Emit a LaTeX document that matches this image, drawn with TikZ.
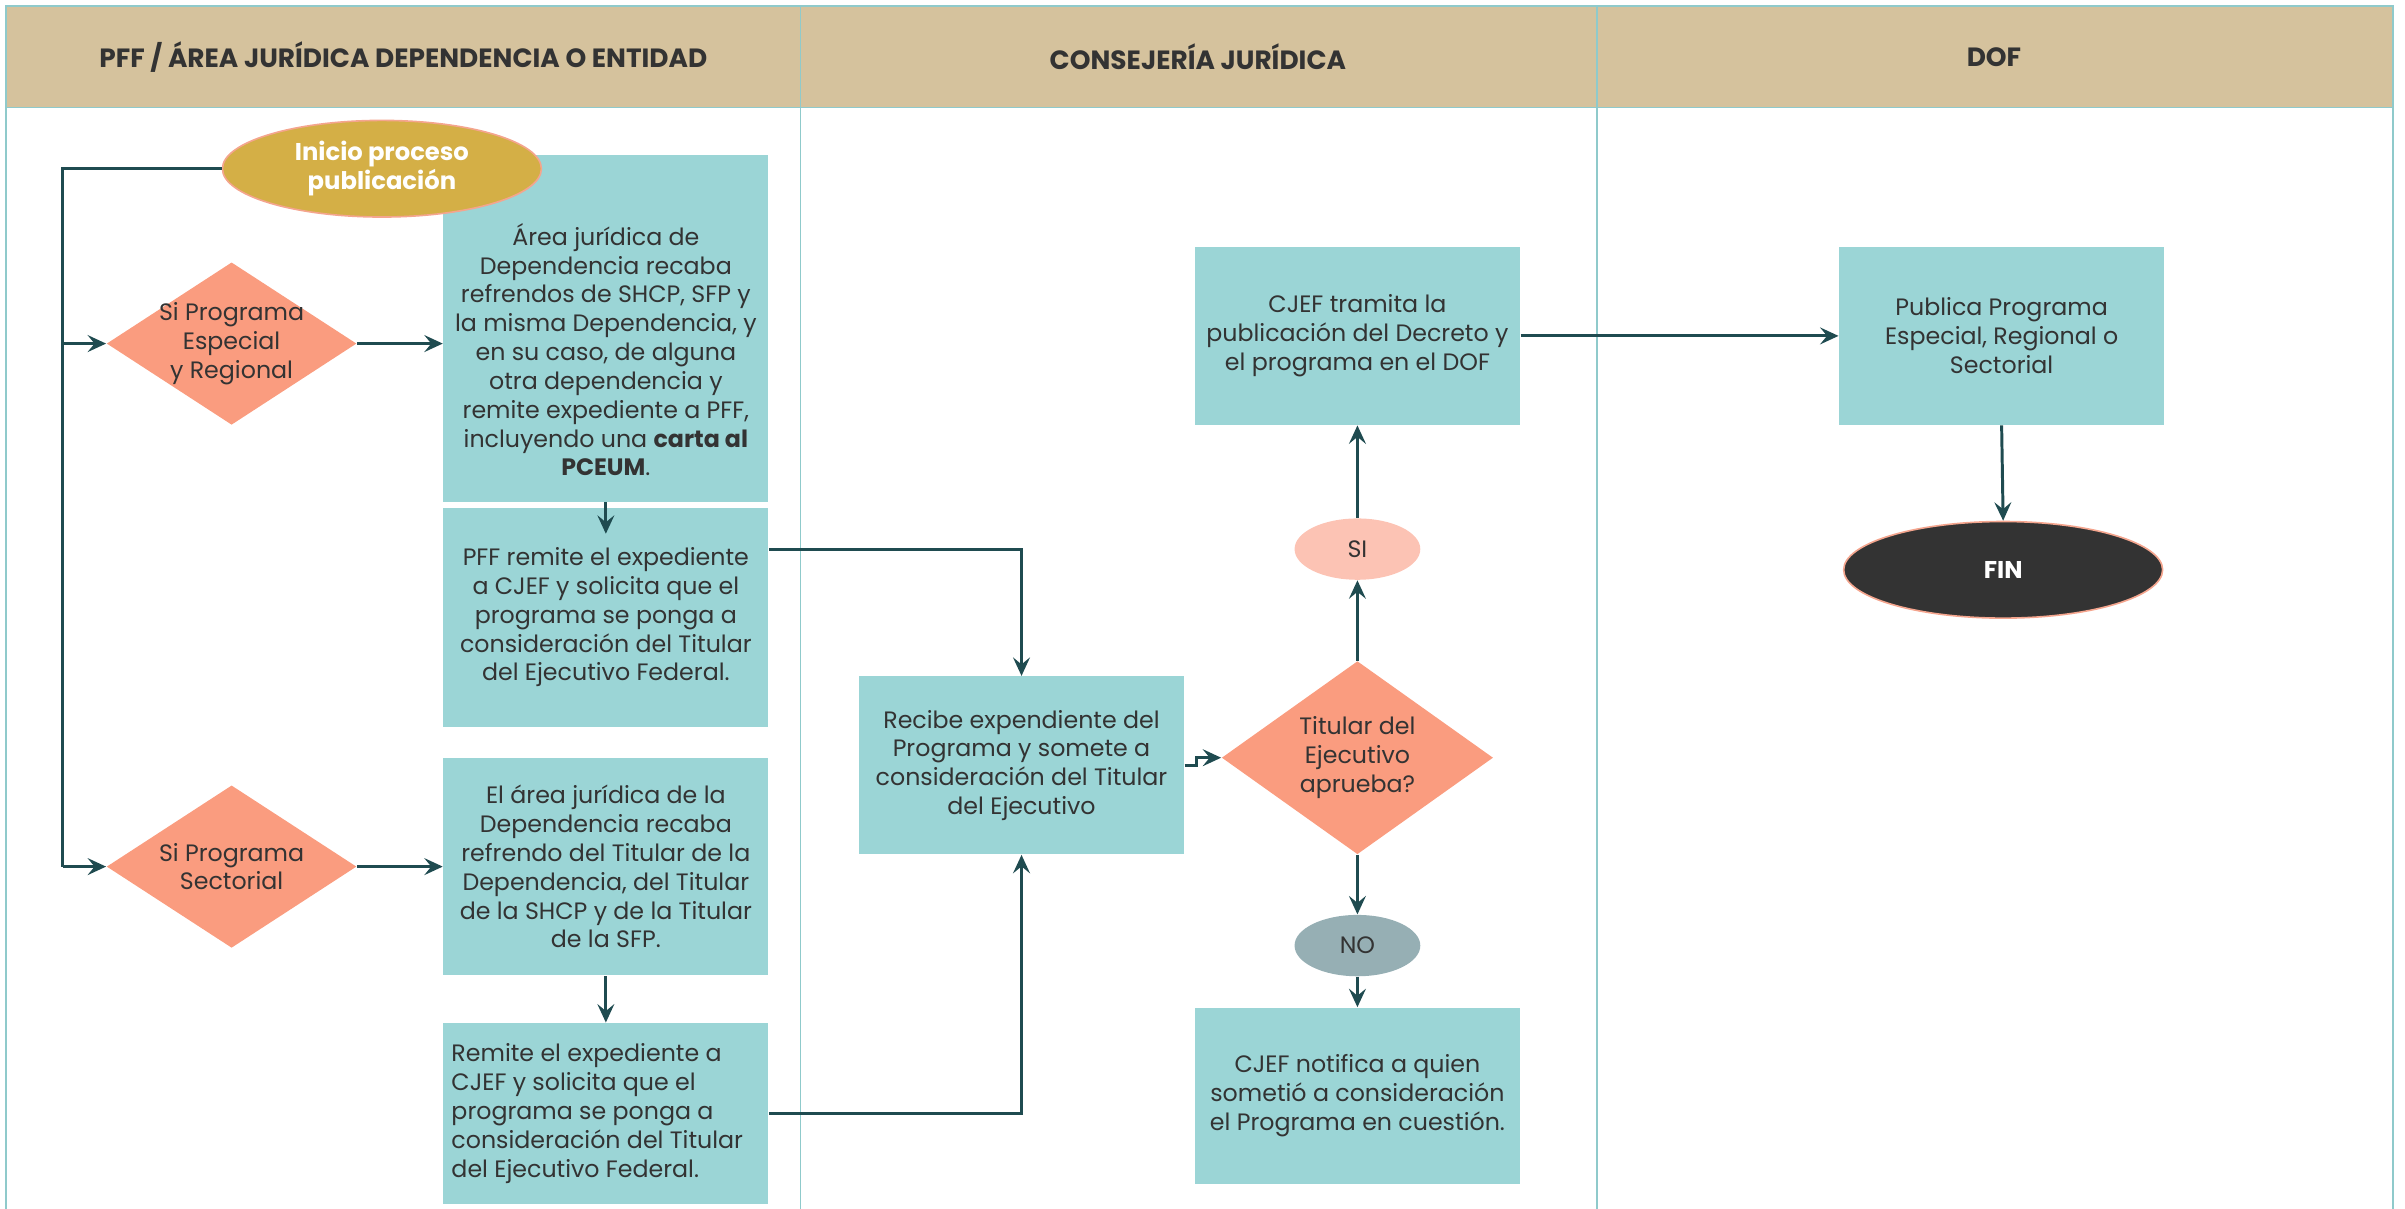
\documentclass[tikz,border=0pt]{standalone}
\usepackage{fontspec}
\setmainfont{Poppins}
\usetikzlibrary{shapes.geometric,arrows.meta}
\definecolor{hdr}{HTML}{D5C29D}
\definecolor{lane}{HTML}{8FCACB}
\definecolor{boxc}{HTML}{9BD5D6}
\definecolor{dia}{HTML}{FA9C7F}
\definecolor{gold}{HTML}{D4AF46}
\definecolor{rim}{HTML}{F4A58E}
\definecolor{sic}{HTML}{FCC3B4}
\definecolor{noc}{HTML}{96AFB4}
\definecolor{finc}{HTML}{333333}
\definecolor{conn}{HTML}{1F4B50}
\definecolor{txt}{HTML}{333333}
\tikzset{
  boxstep/.style={rectangle, fill=boxc, draw=none, minimum width=4.24cm, inner sep=0pt, align=center, text=txt, font=\fontsize{8.8}{10.7}\selectfont},
  diashape/.style={diamond, fill=dia, draw=none, inner sep=0pt},
  dtext/.style={align=center, text=txt, font=\fontsize{8.8}{10.7}\selectfont, inner sep=0pt},
  arr/.style={draw=conn, line width=1.1pt, -{Stealth[length=2.4mm,width=2.2mm,inset=0.9mm]}},
  plain/.style={draw=conn, line width=1.1pt},
  hdrtext/.style={font=\bfseries\fontsize{9.8}{11}\selectfont, text=txt},
}
\begin{document}
\begin{tikzpicture}[x=0.02cm,y=-0.02cm]
\useasboundingbox (0,0) rectangle (1568,788);
% lanes
\fill[hdr] (4,4) rectangle (1560,70);
\draw[lane, line width=0.6pt] (4,788) -- (4,4) -- (1560,4) -- (1560,788);
\draw[lane, line width=0.6pt] (4,70) -- (1560,70);
\draw[lane, line width=0.6pt] (522,4) -- (522,788);
\draw[lane, line width=0.6pt] (1041,4) -- (1041,788);
\node[hdrtext] (h1) at (263,37) {PFF / ÁREA JURÍDICA DEPENDENCIA O ENTIDAD};
\node[hdrtext] (h2) at (781,37) {CONSEJERÍA JURÍDICA};
\node[hdrtext] (h3) at (1300,37) {DOF};

% left lane
\node[boxstep, minimum height=4.52cm] (A) at (395,214) {};
\node[dtext] (At) at (395,228) {Área jurídica de\\Dependencia recaba\\refrendos de SHCP, SFP y\\la misma Dependencia, y\\en su caso, de alguna\\otra dependencia y\\remite expediente a PFF,\\incluyendo una \textbf{carta al}\\\textbf{PCEUM}.};
\node[ellipse, fill=gold, draw=rim, line width=0.6pt, minimum width=4.16cm, minimum height=1.26cm, inner sep=0pt] (ini) at (249,110) {};
\node[align=center, text=white, font=\bfseries\fontsize{9}{10.6}\selectfont, inner sep=0pt] (init) at (249,110) {Inicio proceso\\publicación};

\node[boxstep, minimum height=2.86cm] (B) at (395,402.5) {PFF remite el expediente\\a CJEF y solicita que el\\programa se ponga a\\consideración del Titular\\del Ejecutivo Federal.};
\node[boxstep, minimum height=2.84cm] (C) at (395,565) {El área jurídica de la\\Dependencia recaba\\refrendo del Titular de la\\Dependencia, del Titular\\de la SHCP y de la Titular\\de la SFP.};
\node[boxstep, minimum height=2.36cm] (D) at (395,726) {};
\node[dtext, align=left, anchor=west] (Dt) at (294,726) {Remite el expediente a\\CJEF y solicita que el\\programa se ponga a\\consideración del Titular\\del Ejecutivo Federal.};

\node[diashape, minimum width=3.26cm, minimum height=2.12cm] (d1) at (151,224) {};
\node[dtext] (d1t) at (151,224) {Si Programa\\Especial\\y Regional};
\node[diashape, minimum width=3.26cm, minimum height=2.12cm] (d2) at (151,565) {};
\node[dtext] (d2t) at (151,565) {Si Programa\\Sectorial};

% middle lane
\node[boxstep, minimum height=2.32cm] (E) at (666,499) {Recibe expendiente del\\Programa y somete a\\consideración del Titular\\del Ejecutivo};
\node[diashape, minimum width=3.54cm, minimum height=2.52cm] (d3) at (885,494) {};
\node[dtext] (d3t) at (885,494) {Titular del\\Ejecutivo\\aprueba?};
\node[ellipse, fill=sic, minimum width=1.64cm, minimum height=0.8cm, inner sep=0pt, text=txt, font=\fontsize{8.8}{10.7}\selectfont] (si) at (885,358) {SI};
\node[ellipse, fill=noc, minimum width=1.64cm, minimum height=0.8cm, inner sep=0pt, text=txt, font=\fontsize{8.8}{10.7}\selectfont] (no) at (885,616.5) {NO};
\node[boxstep, minimum height=2.32cm] (F) at (885,219) {CJEF tramita la\\publicación del Decreto y\\el programa en el DOF};
\node[boxstep, minimum height=2.30cm] (G) at (885,714.5) {CJEF notifica a quien\\sometió a consideración\\el Programa en cuestión.};

% right lane
\node[boxstep, minimum height=2.32cm] (H) at (1305,219) {Publica Programa\\Especial, Regional o\\Sectorial};
\node[ellipse, fill=finc, draw=rim, line width=0.6pt, minimum width=4.16cm, minimum height=1.26cm, inner sep=0pt] (fin) at (1306,371.5) {};
\node[text=white, font=\bfseries\fontsize{9}{10.6}\selectfont, inner sep=0pt] (fint) at (1306,371.5) {FIN};

% connectors
\coordinate (j0) at (41,110);
\coordinate (j1) at (41,224);
\coordinate (j2) at (41,565);
\draw[plain] (ini.west) -- (j0) -- (j2);
\draw[arr] (j1) -- (d1.west);
\draw[arr] (j2) -- (d2.west);
\draw[arr] (d1.east) -- (A.west |- d1.east);
\draw[arr] (d2.east) -- (C.west);
\coordinate (abend) at (395,348);
\draw[arr] (A.south) -- (abend);
\draw[arr] (C.south) -- (D.north);
\draw[arr] ([yshift=0.89cm]B.east) -| (E.north);
\draw[arr] (D.east) -| (E.south);
\draw[arr] (E.east) -- ++(8,0) |- (d3.west);
\draw[arr] (d3.north) -- (si.south);
\draw[arr] (si.north) -- (F.south);
\draw[arr] (d3.south) -- (no.north);
\draw[arr] (no.south) -- (G.north);
\draw[arr] (F.east) -- (H.west);
\draw[arr] (H.south) -- (fin.north);
\end{tikzpicture}
\end{document}
